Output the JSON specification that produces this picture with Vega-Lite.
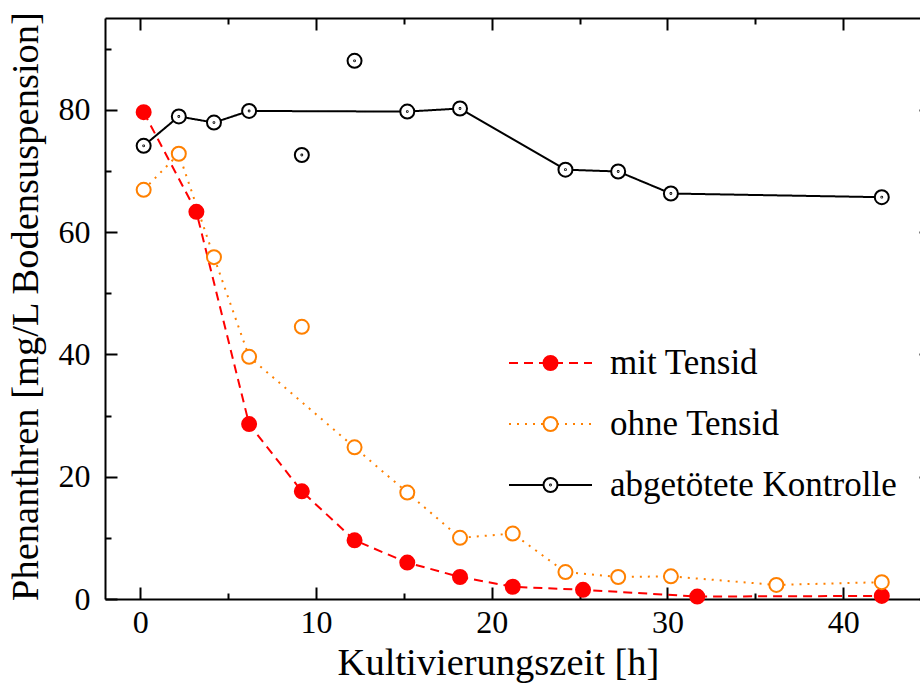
{
  "$schema": "https://vega.github.io/schema/vega-lite/v6.json",
  "width": 826,
  "height": 581,
  "autosize": {"type": "none"},
  "padding": {"left": 105, "top": 18, "right": -11, "bottom": 85},
  "background": "white",
  "config": {
    "font": "Liberation Serif",
    "view": {"stroke": null},
    "axis": {
      "grid": false,
      "domainColor": "black",
      "domainWidth": 2,
      "tickColor": "black",
      "tickWidth": 2,
      "labelFont": "Liberation Serif",
      "labelFontSize": 32,
      "labelColor": "black",
      "labelOverlap": false,
      "labelFlush": false,
      "titleFont": "Liberation Serif",
      "titleFontSize": 38.5,
      "titleFontWeight": "normal",
      "titleColor": "black"
    },
    "legend": {
      "padding": 0,
      "rowPadding": 0,
      "labelFont": "Liberation Serif",
      "labelFontSize": 35,
      "labelColor": "black",
      "labelLimit": 0
    }
  },
  "datasets": {
    "messwerte": [
      {"t": 0.2, "c": 79.6, "serie": "mit Tensid", "ausreisser": false},
      {"t": 3.2, "c": 63.3, "serie": "mit Tensid", "ausreisser": false},
      {"t": 6.2, "c": 28.6, "serie": "mit Tensid", "ausreisser": false},
      {"t": 9.2, "c": 17.6, "serie": "mit Tensid", "ausreisser": false},
      {"t": 12.2, "c": 9.6, "serie": "mit Tensid", "ausreisser": false},
      {"t": 15.2, "c": 5.95, "serie": "mit Tensid", "ausreisser": false},
      {"t": 18.2, "c": 3.6, "serie": "mit Tensid", "ausreisser": false},
      {"t": 21.2, "c": 2.0, "serie": "mit Tensid", "ausreisser": false},
      {"t": 25.2, "c": 1.5, "serie": "mit Tensid", "ausreisser": false},
      {"t": 31.7, "c": 0.4, "serie": "mit Tensid", "ausreisser": false},
      {"t": 42.2, "c": 0.5, "serie": "mit Tensid", "ausreisser": false},
      {"t": 0.2, "c": 66.9, "serie": "ohne Tensid", "ausreisser": false},
      {"t": 2.2, "c": 72.8, "serie": "ohne Tensid", "ausreisser": false},
      {"t": 4.2, "c": 55.9, "serie": "ohne Tensid", "ausreisser": false},
      {"t": 6.2, "c": 39.6, "serie": "ohne Tensid", "ausreisser": false},
      {"t": 9.2, "c": 44.5, "serie": "ohne Tensid", "ausreisser": true},
      {"t": 12.2, "c": 24.8, "serie": "ohne Tensid", "ausreisser": false},
      {"t": 15.2, "c": 17.4, "serie": "ohne Tensid", "ausreisser": false},
      {"t": 18.2, "c": 10.0, "serie": "ohne Tensid", "ausreisser": false},
      {"t": 21.2, "c": 10.7, "serie": "ohne Tensid", "ausreisser": false},
      {"t": 24.2, "c": 4.4, "serie": "ohne Tensid", "ausreisser": false},
      {"t": 27.2, "c": 3.6, "serie": "ohne Tensid", "ausreisser": false},
      {"t": 30.2, "c": 3.7, "serie": "ohne Tensid", "ausreisser": false},
      {"t": 36.2, "c": 2.3, "serie": "ohne Tensid", "ausreisser": false},
      {"t": 42.2, "c": 2.75, "serie": "ohne Tensid", "ausreisser": false},
      {"t": 0.2, "c": 74.1, "serie": "abgetötete Kontrolle", "ausreisser": false},
      {"t": 2.2, "c": 78.9, "serie": "abgetötete Kontrolle", "ausreisser": false},
      {"t": 4.2, "c": 77.9, "serie": "abgetötete Kontrolle", "ausreisser": false},
      {"t": 6.2, "c": 79.8, "serie": "abgetötete Kontrolle", "ausreisser": false},
      {"t": 9.2, "c": 72.6, "serie": "abgetötete Kontrolle", "ausreisser": true},
      {"t": 12.2, "c": 88.0, "serie": "abgetötete Kontrolle", "ausreisser": true},
      {"t": 15.2, "c": 79.7, "serie": "abgetötete Kontrolle", "ausreisser": false},
      {"t": 18.2, "c": 80.2, "serie": "abgetötete Kontrolle", "ausreisser": false},
      {"t": 24.2, "c": 70.2, "serie": "abgetötete Kontrolle", "ausreisser": false},
      {"t": 27.2, "c": 69.9, "serie": "abgetötete Kontrolle", "ausreisser": false},
      {"t": 30.2, "c": 66.3, "serie": "abgetötete Kontrolle", "ausreisser": false},
      {"t": 42.2, "c": 65.7, "serie": "abgetötete Kontrolle", "ausreisser": false}
    ]
  },
  "data": {"name": "messwerte"},
  "layer": [
    {
      "transform": [{"filter": "!datum.ausreisser"}],
      "mark": {"type": "line", "strokeWidth": 2},
      "encoding": {
        "x": {
          "field": "t",
          "type": "quantitative",
          "scale": {"domain": [-2, 45], "nice": false, "zero": false},
          "axis": {
            "orient": "bottom",
            "values": [0, 5, 10, 15, 20, 25, 30, 35, 40, 45],
            "labelExpr": "datum.value % 10 === 0 && datum.value < 45 ? datum.label : ''",
            "tickSize": {"condition": {"test": "datum.value % 10 === 0", "value": -12}, "value": -6},
            "labelPadding": 20,
            "title": "Kultivierungszeit [h]",
            "titleX": 393,
            "titleY": 75,
            "titleAlign": "center",
            "titleBaseline": "alphabetic"
          }
        },
        "y": {
          "field": "c",
          "type": "quantitative",
          "scale": {"domain": [0, 95], "nice": false, "zero": false},
          "axis": {
            "orient": "left",
            "values": [0, 10, 20, 30, 40, 50, 60, 70, 80, 90],
            "labelExpr": "datum.value % 20 === 0 ? datum.label : ''",
            "tickSize": {"condition": {"test": "datum.value % 20 === 0", "value": -12}, "value": -6},
            "labelPadding": 27,
            "title": "Phenanthren [mg/L Bodensuspension]",
            "titleX": -68,
            "titleY": 288,
            "titleAngle": -90,
            "titleAlign": "center",
            "titleBaseline": "alphabetic"
          }
        },
        "color": {
          "field": "serie",
          "type": "nominal",
          "scale": {
            "domain": ["mit Tensid", "ohne Tensid", "abgetötete Kontrolle"],
            "range": ["#ff0000", "#ff8000", "#000000"]
          },
          "legend": {
            "orient": "none",
            "legendX": 403,
            "legendY": 314.5,
            "title": null,
            "symbolType": "stroke",
            "symbolSize": 6889,
            "symbolStrokeWidth": 2,
            "labelOffset": 17,
            "clipHeight": 61
          }
        },
        "strokeDash": {
          "field": "serie",
          "type": "nominal",
          "scale": {
            "domain": ["mit Tensid", "ohne Tensid", "abgetötete Kontrolle"],
            "range": [[9, 6], [2, 6], [1, 0]]
          },
          "legend": {
            "orient": "none",
            "legendX": 403,
            "legendY": 314.5,
            "title": null,
            "symbolType": "stroke",
            "symbolSize": 6889,
            "symbolStrokeWidth": 2,
            "labelOffset": 17,
            "clipHeight": 61
          }
        }
      }
    },
    {
      "mark": {"type": "point", "opacity": 1, "strokeWidth": 2, "size": 196},
      "encoding": {
        "x": {
          "field": "t",
          "type": "quantitative",
          "axis": {
            "orient": "top",
            "values": [0, 5, 10, 15, 20, 25, 30, 35, 40, 45],
            "labels": false,
            "tickSize": {"condition": {"test": "datum.value % 10 === 0", "value": -12}, "value": -6},
            "title": null
          }
        },
        "y": {
          "field": "c",
          "type": "quantitative",
          "axis": {
            "orient": "right",
            "values": [0, 10, 20, 30, 40, 50, 60, 70, 80, 90],
            "labels": false,
            "tickSize": {"condition": {"test": "datum.value % 20 === 0", "value": -12}, "value": -6},
            "title": null
          }
        },
        "stroke": {
          "field": "serie",
          "type": "nominal",
          "scale": {
            "domain": ["abgetötete Kontrolle", "mit Tensid", "ohne Tensid"],
            "range": ["#000000", "#ff0000", "#ff8000"]
          },
          "legend": {
            "orient": "none",
            "legendX": 429,
            "legendY": 314.5,
            "title": null,
            "values": ["mit Tensid", "ohne Tensid", "abgetötete Kontrolle"],
            "symbolSize": 196,
            "symbolStrokeWidth": 2,
            "labelFontSize": 33,
            "labelExpr": "''",
            "clipHeight": 61
          }
        },
        "fill": {
          "field": "serie",
          "type": "nominal",
          "scale": {
            "domain": ["abgetötete Kontrolle", "mit Tensid", "ohne Tensid"],
            "range": ["#ffffff", "#ff0000", "#ffffff"]
          },
          "legend": {
            "orient": "none",
            "legendX": 429,
            "legendY": 314.5,
            "title": null,
            "values": ["mit Tensid", "ohne Tensid", "abgetötete Kontrolle"],
            "symbolSize": 196,
            "symbolStrokeWidth": 2,
            "labelFontSize": 33,
            "labelExpr": "''",
            "clipHeight": 61
          }
        },
        "shape": {
          "field": "serie",
          "type": "nominal",
          "scale": {
            "domain": ["abgetötete Kontrolle", "mit Tensid", "ohne Tensid"],
            "range": [
              "M1,0A1,1,0,1,1,-1,0A1,1,0,1,1,1,0ZM0.06,0A0.06,0.06,0,1,1,-0.06,0A0.06,0.06,0,1,1,0.06,0Z",
              "circle",
              "circle"
            ]
          },
          "legend": {
            "orient": "none",
            "legendX": 429,
            "legendY": 314.5,
            "title": null,
            "values": ["mit Tensid", "ohne Tensid", "abgetötete Kontrolle"],
            "symbolSize": 196,
            "symbolStrokeWidth": 2,
            "labelFontSize": 33,
            "labelExpr": "''",
            "clipHeight": 61
          }
        }
      }
    }
  ],
  "resolve": {"axis": {"x": "independent", "y": "independent"}}
}
